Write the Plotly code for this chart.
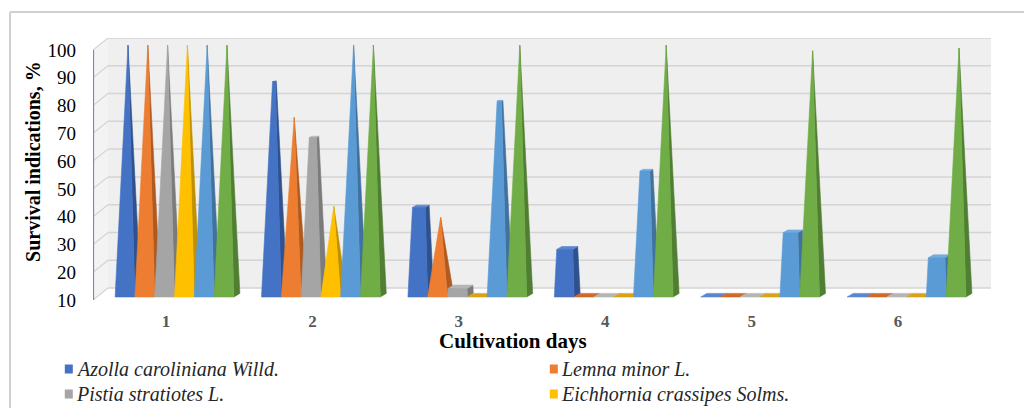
import plotly.graph_objects as go

# ---- data -------------------------------------------------------------
days = [1, 2, 3, 4, 5, 6]
day_labels = ["1", "2", "3", "4", "5", "6"]
y_ticks = [10, 20, 30, 40, 50, 60, 70, 80, 90, 100]

series_names = [
    "Azolla caroliniana Willd.",
    "Lemna minor L.",
    "Pistia stratiotes L.",
    "Eichhornia crassipes Solms.",
    "Series 5",
    "Series 6",
]
azolla = [100, 87, 42, 27, 10, 10]
lemna = [100, 74, 38, 10, 10, 10]
pistia = [100, 67, 13, 10, 10, 10]
eichhornia = [100, 42, 10, 10, 10, 10]
series5 = [100, 100, 80, 55, 33, 24]
series6 = [100, 100, 100, 100, 98, 99]
series_values = [azolla, lemna, pistia, eichhornia, series5, series6]

# partial pyramids are clipped at the value; full pyramids end in a point
partial_shape = [True, False, True, False, True, False]

# front / side / top face colours per series
front_colors = ["#4472C4", "#ED7D31", "#A5A5A5", "#FFC000", "#5B9BD5", "#70AD47"]
side_colors = ["#2F528F", "#AE5A21", "#7B7B7B", "#BF9000", "#41719C", "#507E32"]
top_colors = ["#5A86D0", "#D06A28", "#B5B5B5", "#D9A21A", "#73ABDD", "#84BA60"]

# ---- 3-D geometry (x in category units, y in value units) -------------
Y_MIN, Y_MAX = 10, 100
X_RANGE = [0.5014, 6.635]
Y_RANGE = [10, 104.32]
WALL_DX, WALL_DY = 0.1025, 4.32       # depth offset of the back wall
BAR_DX, BAR_BASE = 0.058, 11.08       # bar row sits half way back
BAR_W = 0.1352                        # pyramid base width
SIDE_DX, SIDE_DY = 0.041, 1.3         # visible depth of each pyramid


def pyramid_faces(xc, value, partial):
    """Front, side and top polygons of a pyramid reaching `value`."""
    b = BAR_BASE
    bfl = (xc - BAR_W / 2, b)
    bfr = (xc + BAR_W / 2, b)
    bbr = (xc + BAR_W / 2 + SIDE_DX, b + SIDE_DY)
    bbl = (xc - BAR_W / 2 + SIDE_DX, b + SIDE_DY)
    cx, cy = xc + SIDE_DX / 2, b + SIDE_DY / 2
    h = value - Y_MIN
    if h < 0.3:
        # zero height: only the base slab shows
        return [], [], [bfl, bfr, bbr, bbl]
    s = max(1 - h / (Y_MAX - Y_MIN), 0.0) if partial else 0.0

    def top(p):
        return (cx + s * (p[0] - cx), cy + h + s * (p[1] - cy))

    tfl, tfr, tbr, tbl = top(bfl), top(bfr), top(bbr), top(bbl)
    front = [bfl, bfr, tfr, tfl]
    side = [bfr, bbr, tbr, tfr]
    top_face = [tfl, tfr, tbr, tbl] if s > 0.01 else []
    return front, side, top_face


def polys_to_xy(polys):
    xs, ys = [], []
    for poly in polys:
        if not poly:
            continue
        for px, py in poly + [poly[0]]:
            xs.append(px)
            ys.append(py)
        xs.append(None)
        ys.append(None)
    return xs, ys


fig = go.Figure()

n_series = len(series_values)
for k, vals in enumerate(series_values):
    fronts, sides, tops = [], [], []
    for d, v in zip(days, vals):
        xc = d + BAR_DX + (k - (n_series - 1) / 2) * BAR_W
        f, s, t = pyramid_faces(xc, v, partial_shape[k])
        fronts.append(f)
        sides.append(s)
        tops.append(t)
    for polys, col in ((sides, side_colors[k]), (tops, top_colors[k]), (fronts, front_colors[k])):
        xs, ys = polys_to_xy(polys)
        if not xs:
            continue
        fig.add_trace(go.Scatter(
            x=xs, y=ys, mode="lines", fill="toself", fillcolor=col,
            line=dict(width=0.6, color=col), name=series_names[k],
            hoverinfo="skip", showlegend=False,
        ))

# ---- walls and gridlines ---------------------------------------------
shapes = []
x0, x1 = X_RANGE
bx0 = x0 + WALL_DX
# back wall
shapes.append(dict(type="rect", xref="x", yref="y", x0=bx0, x1=x1,
                   y0=Y_MIN + WALL_DY, y1=Y_MAX + WALL_DY,
                   fillcolor="#EFEFEF", line=dict(width=0), layer="below"))
# left side wall
shapes.append(dict(type="path", xref="x", yref="y",
                   path=f"M{x0},{Y_MIN} L{bx0},{Y_MIN + WALL_DY} L{bx0},{Y_MAX + WALL_DY} L{x0},{Y_MAX} Z",
                   fillcolor="#F3F3F3", line=dict(width=0), layer="below"))
for v in y_ticks:
    shapes.append(dict(type="line", xref="x", yref="y", x0=bx0, x1=x1,
                       y0=v + WALL_DY, y1=v + WALL_DY,
                       line=dict(color="#D4D4D4", width=1.5), layer="below"))
    shapes.append(dict(type="line", xref="x", yref="y", x0=x0, x1=bx0,
                       y0=v, y1=v + WALL_DY,
                       line=dict(color="#D4D4D4", width=1.2), layer="below"))
# front vertical axis line
shapes.append(dict(type="line", xref="x", yref="y", x0=x0, x1=x0, y0=Y_MIN, y1=Y_MAX,
                   line=dict(color="#5B8FD6", width=2.2), layer="above"))
# outer chart frame
shapes.append(dict(type="line", xref="paper", yref="paper", x0=-0.0924, x1=1.05,
                   y0=1.0992, y1=1.0992, line=dict(color="#D0D0D0", width=2)))
shapes.append(dict(type="line", xref="paper", yref="paper", x0=-0.0924, x1=-0.0924,
                   y0=1.0992, y1=-0.5, line=dict(color="#D0D0D0", width=2)))

# ---- legend (two columns, first four series) --------------------------
annotations = []
legend_cols = [-0.0189, 0.5212]
legend_rows = [-0.2634, -0.3588]
sq_w, sq_h = 8 / 898, 9 / 262
for i in range(4):
    lx = legend_cols[i % 2]
    ly = legend_rows[i // 2]
    shapes.append(dict(type="rect", xref="paper", yref="paper",
                       x0=lx - 0.0125, x1=lx - 0.0125 + sq_w,
                       y0=ly - sq_h / 2, y1=ly + sq_h / 2,
                       fillcolor=front_colors[i], line=dict(width=0)))
    annotations.append(dict(xref="paper", yref="paper", x=lx - 0.002, y=ly,
                            xanchor="left", yanchor="middle", showarrow=False,
                            text=series_names[i],
                            font=dict(family="Liberation Serif", size=20,
                                      color="#262626", style="italic")))

# axis titles
annotations.append(dict(xref="paper", yref="paper", x=-0.0668, y=0.527,
                        xanchor="center", yanchor="middle",
                        textangle=-90, showarrow=False, text="Survival indications, %",
                        font=dict(family="Liberation Serif", size=20, color="#000000",
                                  weight="bold")))
annotations.append(dict(xref="paper", yref="paper", x=0.4677, y=-0.158,
                        xanchor="center", yanchor="middle",
                        showarrow=False, text="Cultivation days",
                        font=dict(family="Liberation Serif", size=21, color="#000000",
                                  weight="bold")))

fig.update_layout(
    width=1024, height=408,
    margin=dict(l=93, r=33, t=38, b=108),
    paper_bgcolor="white", plot_bgcolor="white",
    showlegend=False,
    shapes=shapes, annotations=annotations,
    xaxis=dict(range=X_RANGE, tickvals=days, ticktext=day_labels,
               showgrid=False, zeroline=False, showline=False, ticks="",
               ticklabelstandoff=9,
               tickfont=dict(family="Liberation Serif", size=17, color="#595959",
                             weight="bold")),
    yaxis=dict(range=Y_RANGE, tickvals=y_ticks,
               showgrid=False, zeroline=False, showline=False, ticks="",
               ticklabelstandoff=16,
               tickfont=dict(family="Liberation Serif", size=19, color="#000000")),
)

fig.write_html("out.html")
